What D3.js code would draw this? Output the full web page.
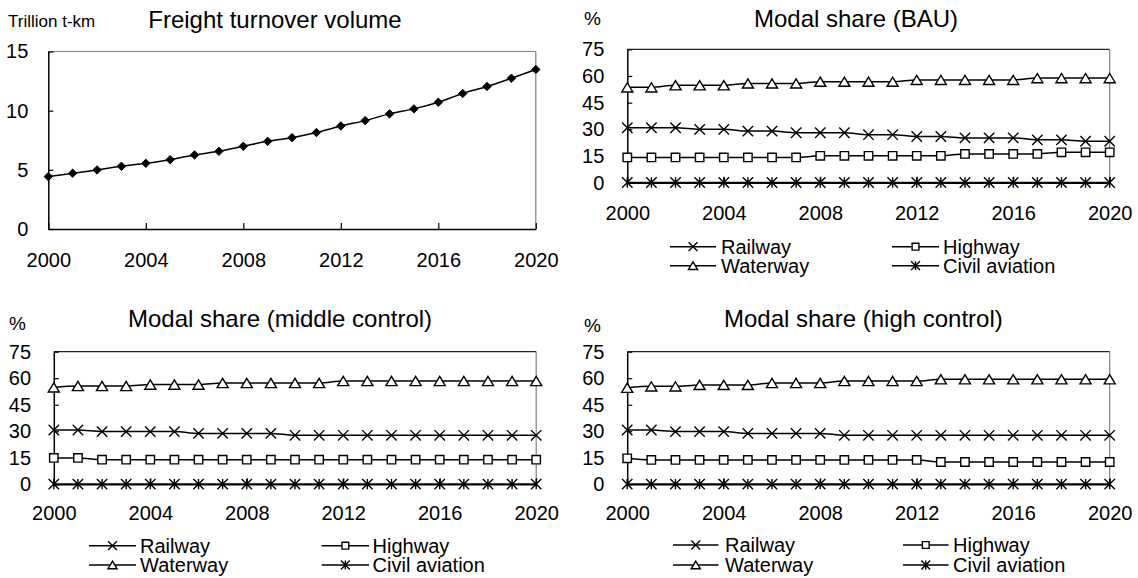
<!DOCTYPE html>
<html>
<head>
<meta charset="utf-8">
<script src="https://cdn.jsdelivr.net/npm/d3@7"></script>
<style>
  body { margin: 0; background: #fff; }
  svg { display: block; font-family: "Liberation Sans", Arial, sans-serif; }
</style>
</head>
<body>
<div id="chart"></div>
<script>
// years and tick labels
const years = [2000, 2001, 2002, 2003, 2004, 2005, 2006, 2007, 2008, 2009, 2010,
               2011, 2012, 2013, 2014, 2015, 2016, 2017, 2018, 2019, 2020];
const yearTicks = [2000, 2004, 2008, 2012, 2016, 2020];
const freightTicks = [0, 5, 10, 15];
const shareTicks = [0, 15, 30, 45, 60, 75];

// freight turnover, trillion t-km
const freight = [4.43, 4.71, 4.99, 5.30, 5.55, 5.86, 6.26, 6.57, 6.99, 7.41, 7.72,
                 8.15, 8.71, 9.16, 9.73, 10.15, 10.71, 11.45, 12.04, 12.74, 13.48];

// modal share (%) - BAU
const bauRailway  = [30.9, 30.9, 30.9, 30.0, 30.0, 29.0, 29.0, 28.1, 28.1, 28.1, 27.0,
                     27.0, 26.0, 26.0, 25.2, 25.2, 25.2, 24.1, 24.1, 23.3, 23.3];
const bauHighway  = [14.2, 14.2, 14.2, 14.2, 14.2, 14.2, 14.2, 14.2, 15.1, 15.1, 15.1,
                     15.1, 15.1, 15.1, 16.2, 16.2, 16.2, 16.2, 17.1, 17.1, 17.1];
const bauWaterway = [53.6, 53.6, 54.8, 54.8, 54.8, 55.8, 55.8, 55.8, 56.8, 56.8, 56.8,
                     56.8, 57.8, 57.8, 57.8, 57.8, 57.8, 58.8, 58.8, 58.8, 58.8];
const bauAviation = [0.1, 0.1, 0.1, 0.1, 0.1, 0.1, 0.1, 0.1, 0.1, 0.1, 0.1,
                     0.1, 0.1, 0.1, 0.1, 0.1, 0.1, 0.1, 0.1, 0.1, 0.1];

// modal share (%) - middle control
const midRailway  = [30.7, 30.7, 29.8, 29.8, 29.8, 29.8, 28.8, 28.8, 28.8, 28.8, 27.7,
                     27.7, 27.7, 27.7, 27.7, 27.7, 27.7, 27.7, 27.7, 27.7, 27.7];
const midHighway  = [14.9, 14.9, 13.9, 13.9, 13.9, 13.9, 13.9, 13.9, 13.9, 13.9, 13.9,
                     13.9, 13.9, 13.9, 13.9, 13.9, 13.9, 13.9, 13.9, 13.9, 13.9];
const midWaterway = [54.8, 55.6, 55.6, 55.6, 56.4, 56.4, 56.4, 57.3, 57.3, 57.3, 57.3,
                     57.3, 58.4, 58.4, 58.4, 58.4, 58.4, 58.4, 58.4, 58.4, 58.4];
const midAviation = [0.1, 0.1, 0.1, 0.1, 0.1, 0.1, 0.1, 0.1, 0.1, 0.1, 0.1,
                     0.1, 0.1, 0.1, 0.1, 0.1, 0.1, 0.1, 0.1, 0.1, 0.1];

// modal share (%) - high control
const highRailway  = [30.7, 30.7, 29.8, 29.8, 29.8, 28.8, 28.8, 28.8, 28.8, 27.7, 27.7,
                      27.7, 27.7, 27.7, 27.7, 27.7, 27.7, 27.7, 27.7, 27.7, 27.7];
const highHighway  = [14.7, 13.8, 13.8, 13.8, 13.8, 13.8, 13.8, 13.8, 13.8, 13.8, 13.8,
                      13.8, 13.8, 12.6, 12.6, 12.6, 12.6, 12.6, 12.6, 12.6, 12.6];
const highWaterway = [54.6, 55.4, 55.4, 56.2, 56.2, 56.2, 57.3, 57.3, 57.3, 58.4, 58.4,
                      58.4, 58.4, 59.4, 59.4, 59.4, 59.4, 59.4, 59.4, 59.4, 59.4];
const highAviation = [0.1, 0.1, 0.1, 0.1, 0.1, 0.1, 0.1, 0.1, 0.1, 0.1, 0.1,
                      0.1, 0.1, 0.1, 0.1, 0.1, 0.1, 0.1, 0.1, 0.1, 0.1];

const modeNames = ["Railway", "Highway", "Waterway", "Civil aviation"];
const modeMarkers = ["cross", "square", "triangle", "star"];

const W = 1138, H = 578;
const svg = d3.select("#chart").append("svg").attr("width", W).attr("height", H);

// marker shapes (s = half size)
function markerPath(type, s) {
  if (type === "diamond") return `M0,${-s}L${s},0L0,${s}L${-s},0Z`;
  if (type === "cross") return `M${-s},${-s}L${s},${s}M${-s},${s}L${s},${-s}`;
  if (type === "star") return `M${-s},${-s}L${s},${s}M${-s},${s}L${s},${-s}M0,${-s}L0,${s}`;
  if (type === "square") return `M${-s},${-s}H${s}V${s}H${-s}Z`;
  if (type === "triangle") return `M0,${-s}L${s * 1.2},${s}L${-s * 1.2},${s}Z`;
}
function markerStyle(sel, type) {
  const filled = type === "diamond";
  const open = type === "square" || type === "triangle";
  sel.attr("fill", filled ? "#000" : (open ? "#fff" : "none"))
     .attr("stroke", "#000")
     .attr("stroke-width", filled ? 1 : 1.4);
}
const markerSize = { diamond: 4.2, cross: 5.2, star: 5.2, square: 4.2, triangle: 4.6 };

function drawPanel(cfg) {
  const x = d3.scaleLinear().domain([2000, 2020]).range([cfg.x0, cfg.x1]);
  const y = d3.scaleLinear().domain(cfg.domain).range([cfg.yBot, cfg.yTop]);
  const g = svg.append("g");

  // top & right frame
  g.append("line").attr("x1", cfg.x0).attr("x2", cfg.x1).attr("y1", cfg.yTop).attr("y2", cfg.yTop)
    .attr("stroke", cfg.topColor).attr("stroke-width", 1.2);
  g.append("line").attr("x1", cfg.x1).attr("x2", cfg.x1).attr("y1", cfg.yTop).attr("y2", cfg.yBot)
    .attr("stroke", "#808080").attr("stroke-width", 1.2);

  // y axis, ticks pointing inward
  const ya = g.append("g").attr("transform", `translate(${cfg.x0},0)`)
    .call(d3.axisLeft(y).tickValues(cfg.ticks).tickSizeInner(-5).tickSizeOuter(0).tickPadding(cfg.tickPad));
  ya.select(".domain").attr("stroke", "#000").attr("stroke-width", 1.5);
  ya.selectAll(".tick line").attr("stroke", "#000").attr("stroke-width", 1.2);
  ya.selectAll(".tick text").attr("font-size", 20).attr("fill", "#000").attr("font-family", null);

  // x axis
  const xa = g.append("g").attr("transform", `translate(0,${cfg.yBot})`)
    .call(d3.axisBottom(x).tickValues(yearTicks).tickFormat(d3.format("d"))
      .tickSizeInner(-6).tickSizeOuter(0));
  xa.select(".domain").attr("stroke", "#000").attr("stroke-width", 1.5);
  xa.selectAll(".tick line").attr("stroke", "#000").attr("stroke-width", 1.2);
  xa.selectAll(".tick text").attr("font-size", 20).attr("fill", "#000").attr("font-family", null)
    .attr("y", cfg.xLabelY - cfg.yBot).attr("dy", null);

  // title and unit
  g.append("text").attr("x", cfg.titleX).attr("y", cfg.titleY).attr("text-anchor", "middle")
    .attr("font-size", 24).text(cfg.title);
  g.append("text").attr("x", cfg.unitX).attr("y", cfg.unitY)
    .attr("font-size", cfg.unitSize).text(cfg.unit);

  const line = d3.line().x((d, i) => x(years[i])).y(d => y(d)).curve(d3.curveMonotoneX);

  cfg.series.forEach((vals, k) => {
    const type = cfg.markers[k];
    g.append("path").datum(vals).attr("d", line)
      .attr("fill", "none").attr("stroke", "#000").attr("stroke-width", 1.5);
    g.selectAll(null).data(vals).enter().append("path")
      .attr("transform", (d, i) => `translate(${x(years[i])},${y(d)})`)
      .attr("d", markerPath(type, markerSize[type]))
      .call(markerStyle, type);
  });

  if (cfg.legend) {
    const L = cfg.legend;
    modeNames.forEach((name, k) => {
      const col = L.cols[k % 2], row = L.rows[Math.floor(k / 2)];
      const type = modeMarkers[k];
      g.append("line").attr("x1", col.line[0]).attr("x2", col.line[1]).attr("y1", row).attr("y2", row)
        .attr("stroke", "#000").attr("stroke-width", 1.5);
      g.append("path").attr("transform", `translate(${(col.line[0] + col.line[1]) / 2},${row})`)
        .attr("d", markerPath(type, markerSize[type] - 0.8)).call(markerStyle, type);
      g.append("text").attr("x", col.text).attr("y", row).attr("dy", "0.35em")
        .attr("font-size", 20).text(name);
    });
  }
}

drawPanel({
  x0: 48.3, x1: 535.8, yTop: 51.5, yBot: 229, domain: [0, 15], ticks: freightTicks, tickPad: 20,
  xLabelY: 267, topColor: "#808080",
  title: "Freight turnover volume", titleX: 275, titleY: 28,
  unit: "Trillion t-km", unitX: 8, unitY: 27, unitSize: 17,
  series: [freight], markers: ["diamond"]
});

drawPanel({
  x0: 627.3, x1: 1109.7, yTop: 49.3, yBot: 182.7, domain: [0, 75], ticks: shareTicks, tickPad: 23,
  xLabelY: 220, topColor: "#222",
  title: "Modal share (BAU)", titleX: 856, titleY: 27,
  unit: "%", unitX: 584, unitY: 25, unitSize: 19,
  series: [bauRailway, bauHighway, bauWaterway, bauAviation], markers: modeMarkers,
  legend: { rows: [246.7, 265.7], cols: [{ line: [670, 716], text: 721 }, { line: [892, 939], text: 943 }] }
});

drawPanel({
  x0: 53.8, x1: 536.2, yTop: 351.7, yBot: 484.3, domain: [0, 75], ticks: shareTicks, tickPad: 22.8,
  xLabelY: 520, topColor: "#222",
  title: "Modal share (middle control)", titleX: 280, titleY: 326.7,
  unit: "%", unitX: 9, unitY: 330, unitSize: 19,
  series: [midRailway, midHighway, midWaterway, midAviation], markers: modeMarkers,
  legend: { rows: [545.7, 565], cols: [{ line: [89, 136], text: 140 }, { line: [321.7, 369], text: 372.6 }] }
});

drawPanel({
  x0: 627.2, x1: 1109.7, yTop: 351.7, yBot: 484.3, domain: [0, 75], ticks: shareTicks, tickPad: 22.8,
  xLabelY: 520, topColor: "#222",
  title: "Modal share (high control)", titleX: 863.4, titleY: 326.7,
  unit: "%", unitX: 584, unitY: 331.7, unitSize: 19,
  series: [highRailway, highHighway, highWaterway, highAviation], markers: modeMarkers,
  legend: { rows: [545, 565], cols: [{ line: [673, 718.5], text: 725 }, { line: [903, 948.5], text: 953 }] }
});
</script>
</body>
</html>
